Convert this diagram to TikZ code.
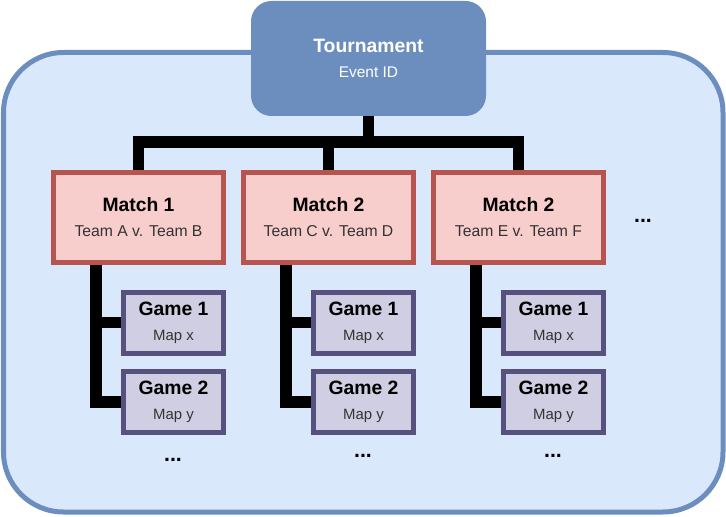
\documentclass[tikz,border=0pt]{standalone}
\usepackage{fontspec}
\setmainfont{Liberation Sans}

\definecolor{panelfill}{HTML}{DAE8FC}
\definecolor{paneldraw}{HTML}{6C8EBF}
\definecolor{matchfill}{HTML}{F8CECC}
\definecolor{matchdraw}{HTML}{B85450}
\definecolor{gamefill}{HTML}{D0CEE2}
\definecolor{gamedraw}{HTML}{56517E}
\definecolor{subtext}{HTML}{333333}

\newcommand{\boxtitle}[1]{{\bfseries\fontsize{14.5}{18.75}\selectfont #1}}

\begin{document}
\begin{tikzpicture}[x=0.75pt,y=-0.75pt,
  tournbox/.style={fill=paneldraw,draw=paneldraw,line width=0.75pt,rounded corners=15pt,
    minimum width=175.5pt,minimum height=85.5pt,align=center,text=white,
    font=\fontsize{11.6}{18.75}\selectfont},
  matchbox/.style={fill=matchfill,draw=matchdraw,line width=3.75pt,
    minimum width=127.5pt,minimum height=67.5pt,align=center,
    font=\fontsize{11.8}{18.75}\selectfont},
  gamebox/.style={fill=gamefill,draw=gamedraw,line width=3.75pt,
    minimum width=75pt,minimum height=45.75pt,align=center,
    font=\fontsize{11.2}{18.75}\selectfont},
  conn/.style={line width=8.5pt,black,line join=miter},
  more/.style={anchor=base,inner sep=0pt,font=\fontsize{16}{18}\selectfont\bfseries}]

\useasboundingbox (0,0) rectangle (726,517);

% outer panel
\draw [fill=panelfill,draw=paneldraw,line width=3.75pt,rounded corners=45pt] (3.5,52.5) rectangle (723,512);

\node [tournbox] (tour) at (368.5,58.5) {\boxtitle{Tournament}\\Event ID};

\node [matchbox] (m1) at (138.5,217.5) {\boxtitle{Match 1}\\{\color{subtext}Team A v. Team B}};
\node [matchbox] (m2) at (328.5,217.5) {\boxtitle{Match 2}\\{\color{subtext}Team C v. Team D}};
\node [matchbox] (m3) at (518.5,217.5) {\boxtitle{Match 2}\\{\color{subtext}Team E v. Team F}};

\node [gamebox] (g11) at (173.5,322.5) {\boxtitle{Game 1}\\{\color{subtext}Map x}};
\node [gamebox] (g12) at (173.5,402) {\boxtitle{Game 2}\\{\color{subtext}Map y}};
\node [gamebox] (g21) at (363.5,322.5) {\boxtitle{Game 1}\\{\color{subtext}Map x}};
\node [gamebox] (g22) at (363.5,402) {\boxtitle{Game 2}\\{\color{subtext}Map y}};
\node [gamebox] (g31) at (553.5,322.5) {\boxtitle{Game 1}\\{\color{subtext}Map x}};
\node [gamebox] (g32) at (553.5,402) {\boxtitle{Game 2}\\{\color{subtext}Map y}};

\draw [conn] (tour.south) -- ++(0,26) -| (m1.north);
\draw [conn] (tour.south) -- ++(0,26) -| (m2.north);
\draw [conn] (tour.south) -- ++(0,26) -| (m3.north);

\coordinate (c1) at ([xshift=33.75pt]m1.south west);
\coordinate (c2) at ([xshift=33.75pt]m2.south west);
\coordinate (c3) at ([xshift=33.75pt]m3.south west);

\draw [conn] (c1) |- (g11.west);
\draw [conn] (c1) |- (g12.west);
\draw [conn] (c2) |- (g21.west);
\draw [conn] (c2) |- (g22.west);
\draw [conn] (c3) |- (g31.west);
\draw [conn] (c3) |- (g32.west);

\node [more] (mm) at (643,223) {...};
\node [more] (d1) at (173,461) {...};
\node [more] (d2) at (363,457) {...};
\node [more] (d3) at (553,457) {...};

\end{tikzpicture}
\end{document}
